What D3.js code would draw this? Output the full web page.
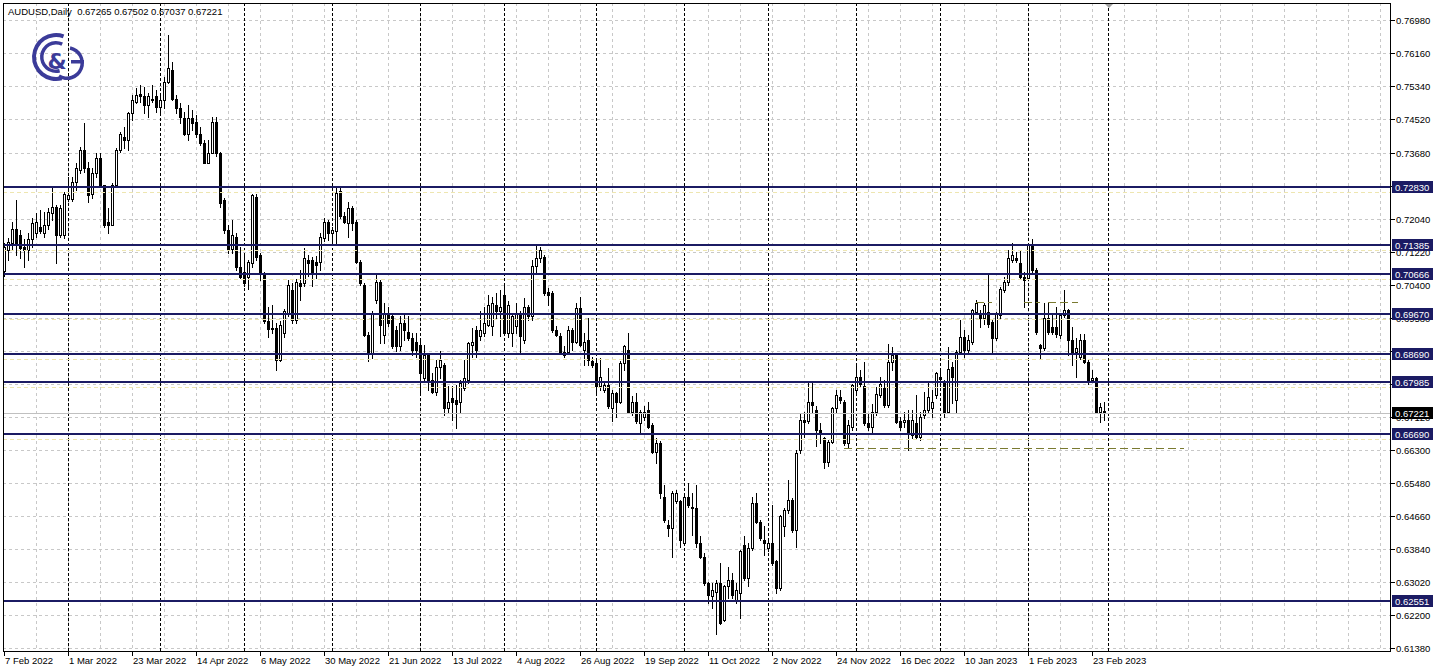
<!DOCTYPE html>
<html><head><meta charset="utf-8">
<script src="https://cdn.jsdelivr.net/npm/d3@7"></script>
<style>html,body{margin:0;padding:0;background:#fff;overflow:hidden}svg{display:block}</style>
</head><body><div id="chart"></div>
<script>
// ---------------- DATA ----------------
const symbolTitle = "AUDUSD,Daily";
const lastOHLC = ["0.67265", "0.67502", "0.67037", "0.67221"];

const opens = [
0.7075,0.7127,0.7145,0.7178,0.7164,0.7135,0.7127,0.7153,0.7168,0.7185,
0.7168,0.7189,0.7218,0.7234,0.7164,0.7164,0.7253,0.7253,0.7296,0.7325,
0.7375,0.7330,0.7267,0.7317,0.7354,0.7288,0.7197,0.7189,0.7288,0.7375,
0.7408,0.7400,0.7466,0.7495,0.7514,0.7508,0.7487,0.7502,0.7509,0.7481,
0.7499,0.7545,0.7575,0.7503,0.7479,0.7454,0.7416,0.7454,0.7445,0.7416,
0.7392,0.7344,0.7367,0.7445,0.7367,0.7251,0.7176,0.7130,0.7160,0.7085,
0.7073,0.7060,0.7094,0.7259,0.7114,0.7069,0.6950,0.6930,0.6933,0.6854,
0.6920,0.6970,0.7028,0.6953,0.7044,0.7044,0.7102,0.7102,0.7098,0.7098,
0.7156,0.7197,0.7169,0.7173,0.7272,0.7210,0.7193,0.7231,0.7197,0.7098,
0.7040,0.6916,0.6870,0.7003,0.7048,0.6916,0.6970,0.6962,0.6928,0.6887,
0.6945,0.6924,0.6908,0.6899,0.6891,0.6808,0.6866,0.6804,0.6775,0.6837,
0.6841,0.6734,0.6759,0.6755,0.6750,0.6784,0.6804,0.6891,0.6928,0.6912,
0.6920,0.6941,0.6937,0.6990,0.6974,0.7015,0.6920,0.6920,0.6937,0.6969,
0.6904,0.6986,0.6962,0.7086,0.7106,0.7110,0.7023,0.7019,0.6928,0.6913,
0.6866,0.6874,0.6928,0.6899,0.6982,0.6879,0.6903,0.6850,0.6845,0.6788,
0.6779,0.6792,0.6734,0.6771,0.6750,0.6845,0.6879,0.6725,0.6750,0.6697,
0.6713,0.6730,0.6692,0.6626,0.6647,0.6514,0.6444,0.6436,0.6502,0.6502,
0.6398,0.6514,0.6489,0.6485,0.6398,0.6365,0.6299,0.6266,0.6278,0.6299,
0.6208,0.6291,0.6307,0.6258,0.6274,0.6394,0.6311,0.6386,0.6498,0.6452,
0.6407,0.6386,0.6398,0.6353,0.6287,0.6440,0.6481,0.6506,0.6432,0.6630,
0.6705,0.6701,0.6750,0.6730,0.6680,0.6659,0.6600,0.6650,0.6733,0.6762,
0.6750,0.6646,0.6688,0.6779,0.6812,0.6790,0.6698,0.6688,0.6725,0.6766,
0.6783,0.6741,0.6849,0.6866,0.6702,0.6700,0.6704,0.6667,0.6696,0.6663,
0.6717,0.6729,0.6733,0.6766,0.6810,0.6799,0.6725,0.6837,0.6754,0.6874,
0.6911,0.6878,0.6899,0.6973,0.6969,0.6957,0.6973,0.6948,0.6907,0.6965,
0.7027,0.7048,0.7102,0.7106,0.7094,0.7060,0.7056,0.7139,0.7077,0.6890,
0.6882,0.6957,0.6936,0.6936,0.6915,0.6965,0.6977,0.6903,0.6874,0.6861,
0.6903,0.6849,0.6804,0.6808,0.6725,0.67265];
const highs = [
0.7145,0.7156,0.7197,0.7251,0.7176,0.7153,0.7168,0.7205,0.7218,0.7226,
0.7222,0.7230,0.7284,0.7238,0.7238,0.7271,0.7309,0.7309,0.7342,0.7383,
0.7443,0.7345,0.7330,0.7368,0.7368,0.7288,0.7230,0.7292,0.7379,0.7421,
0.7433,0.7470,0.7512,0.7528,0.7537,0.7532,0.7516,0.7537,0.7524,0.7508,
0.7557,0.7661,0.7594,0.7512,0.7491,0.7470,0.7487,0.7474,0.7462,0.7433,
0.7400,0.7400,0.7456,0.7458,0.7371,0.7255,0.7189,0.7201,0.7168,0.7135,
0.7118,0.7102,0.7267,0.7267,0.7118,0.7072,0.6985,0.6990,0.6945,0.6950,
0.6980,0.7052,0.7044,0.7055,0.7077,0.7131,0.7115,0.7110,0.7111,0.7169,
0.7206,0.7202,0.7185,0.7280,0.7286,0.7222,0.7247,0.7235,0.7202,0.7102,
0.7044,0.6924,0.6974,0.7065,0.7052,0.6995,0.6986,0.6970,0.6937,0.6962,
0.6966,0.6962,0.6920,0.6920,0.6904,0.6891,0.6870,0.6821,0.6854,0.6875,
0.6846,0.6788,0.6788,0.6792,0.6804,0.6854,0.6899,0.6933,0.6937,0.6974,
0.6986,0.7015,0.7011,0.7019,0.7028,0.7040,0.7000,0.6969,0.6995,0.6974,
0.7007,0.6990,0.7102,0.7140,0.7135,0.7115,0.7032,0.7024,0.6937,0.6920,
0.6887,0.6937,0.6932,0.6995,0.7011,0.6920,0.6957,0.6862,0.6850,0.6858,
0.6800,0.6833,0.6779,0.6775,0.6850,0.6891,0.6920,0.6763,0.6771,0.6730,
0.6738,0.6750,0.6697,0.6659,0.6651,0.6543,0.6456,0.6527,0.6531,0.6506,
0.6523,0.6547,0.6523,0.6543,0.6415,0.6374,0.6303,0.6299,0.6307,0.6349,
0.6295,0.6340,0.6324,0.6299,0.6382,0.6415,0.6398,0.6514,0.6523,0.6456,
0.6440,0.6411,0.6494,0.6357,0.6469,0.6485,0.6556,0.6510,0.6630,0.6721,
0.6725,0.6800,0.6796,0.6738,0.6697,0.6663,0.6655,0.6737,0.6779,0.6780,
0.6755,0.6704,0.6795,0.6845,0.6828,0.6849,0.6721,0.6745,0.6787,0.6812,
0.6803,0.6894,0.6886,0.6870,0.6712,0.6725,0.6729,0.6729,0.6766,0.6725,
0.6774,0.6799,0.6779,0.6824,0.6830,0.6803,0.6886,0.6849,0.6878,0.6952,
0.6928,0.6915,0.6981,0.7002,0.6977,0.6994,0.7068,0.6952,0.6973,0.7035,
0.7060,0.7126,0.7143,0.7122,0.7126,0.7073,0.7143,0.7155,0.7081,0.6894,
0.6994,0.6994,0.6965,0.6986,0.6969,0.7027,0.6981,0.6936,0.6907,0.6919,
0.6919,0.6853,0.6828,0.6812,0.6746,0.67502];
const lows = [
0.7062,0.7102,0.7127,0.7114,0.7108,0.7085,0.7102,0.7135,0.7160,0.7168,
0.7160,0.7180,0.7201,0.7095,0.7160,0.7156,0.7249,0.7249,0.7276,0.7317,
0.7320,0.7247,0.7255,0.7309,0.7284,0.7185,0.7168,0.7189,0.7284,0.7371,
0.7379,0.7375,0.7450,0.7491,0.7495,0.7466,0.7458,0.7495,0.7470,0.7466,
0.7479,0.7541,0.7499,0.7466,0.7441,0.7412,0.7400,0.7425,0.7408,0.7387,
0.7342,0.7342,0.7367,0.7359,0.7234,0.7168,0.7118,0.7118,0.7077,0.7058,
0.7036,0.7030,0.7085,0.7102,0.7052,0.6945,0.6910,0.6920,0.6829,0.6850,
0.6910,0.6962,0.6945,0.6945,0.7003,0.7036,0.7061,0.7036,0.7057,0.7077,
0.7148,0.7152,0.7144,0.7144,0.7206,0.7193,0.7160,0.7177,0.7094,0.7040,
0.6912,0.6850,0.6858,0.6995,0.6895,0.6895,0.6937,0.6883,0.6875,0.6879,
0.6904,0.6904,0.6866,0.6862,0.6771,0.6800,0.6779,0.6771,0.6767,0.6808,
0.6717,0.6721,0.6705,0.6684,0.6721,0.6779,0.6796,0.6862,0.6862,0.6904,
0.6912,0.6937,0.6916,0.6957,0.6912,0.6916,0.6910,0.6887,0.6920,0.6870,
0.6895,0.6953,0.6953,0.7069,0.7098,0.7015,0.6990,0.6924,0.6912,0.6870,
0.6862,0.6870,0.6879,0.6895,0.6887,0.6841,0.6841,0.6837,0.6771,0.6779,
0.6775,0.6734,0.6701,0.6713,0.6746,0.6829,0.6721,0.6717,0.6697,0.6672,
0.6705,0.6684,0.6622,0.6597,0.6510,0.6452,0.6415,0.6365,0.6498,0.6390,
0.6394,0.6489,0.6419,0.6390,0.6361,0.6295,0.6249,0.6237,0.6172,0.6198,
0.6204,0.6262,0.6262,0.6250,0.6212,0.6307,0.6291,0.6382,0.6448,0.6407,
0.6369,0.6378,0.6345,0.6274,0.6282,0.6415,0.6473,0.6427,0.6390,0.6622,
0.6663,0.6697,0.6721,0.6639,0.6647,0.6585,0.6590,0.6646,0.6721,0.6746,
0.6642,0.6634,0.6679,0.6770,0.6787,0.6692,0.6679,0.6671,0.6717,0.6762,
0.6737,0.6737,0.6828,0.6696,0.6679,0.6688,0.6630,0.6659,0.6659,0.6654,
0.6710,0.6725,0.6712,0.6758,0.6790,0.6712,0.6721,0.6746,0.6721,0.6870,
0.6861,0.6874,0.6894,0.6969,0.6936,0.6944,0.6936,0.6874,0.6903,0.6957,
0.7023,0.7039,0.7097,0.7097,0.7056,0.6986,0.7052,0.7073,0.6919,0.6857,
0.6878,0.6919,0.6919,0.6911,0.6907,0.6961,0.6866,0.6841,0.6812,0.6857,
0.6845,0.6795,0.6799,0.6721,0.6700,0.67037];
const closes = [
0.7135,0.7147,0.7178,0.7145,0.7131,0.7127,0.7153,0.7193,0.7197,0.7175,
0.7189,0.7220,0.7234,0.7164,0.7230,0.7267,0.7263,0.7296,0.7330,0.7375,
0.7330,0.7263,0.7317,0.7354,0.7288,0.7189,0.7189,0.7288,0.7375,0.7416,
0.7400,0.7466,0.7499,0.7512,0.7508,0.7487,0.7509,0.7500,0.7481,0.7499,
0.7545,0.7578,0.7503,0.7479,0.7458,0.7416,0.7454,0.7441,0.7416,0.7392,
0.7344,0.7367,0.7445,0.7367,0.7243,0.7176,0.7127,0.7165,0.7085,0.7060,
0.7044,0.7098,0.7263,0.7110,0.7069,0.6950,0.6930,0.6933,0.6854,0.6941,
0.6974,0.7040,0.6953,0.7048,0.7038,0.7106,0.7094,0.7073,0.7090,0.7160,
0.7197,0.7169,0.7177,0.7268,0.7210,0.7197,0.7231,0.7193,0.7098,0.7044,
0.6916,0.6870,0.6970,0.7048,0.6941,0.6970,0.6945,0.6887,0.6887,0.6945,
0.6928,0.6908,0.6879,0.6879,0.6821,0.6866,0.6804,0.6775,0.6837,0.6854,
0.6734,0.6750,0.6750,0.6745,0.6796,0.6808,0.6895,0.6899,0.6879,0.6928,
0.6945,0.6990,0.6995,0.6974,0.6986,0.6920,0.6990,0.6962,0.6969,0.6912,
0.6986,0.6962,0.7086,0.7106,0.7127,0.7019,0.7015,0.6928,0.6916,0.6874,
0.6874,0.6928,0.6899,0.6982,0.6891,0.6899,0.6854,0.6841,0.6788,0.6812,
0.6792,0.6738,0.6771,0.6750,0.6845,0.6887,0.6725,0.6750,0.6701,0.6725,
0.6725,0.6688,0.6626,0.6647,0.6523,0.6456,0.6436,0.6523,0.6523,0.6407,
0.6514,0.6494,0.6485,0.6398,0.6365,0.6299,0.6270,0.6282,0.6299,0.6200,
0.6291,0.6307,0.6270,0.6282,0.6378,0.6311,0.6386,0.6498,0.6452,0.6411,
0.6398,0.6398,0.6349,0.6287,0.6465,0.6481,0.6506,0.6432,0.6622,0.6705,
0.6700,0.6750,0.6742,0.6680,0.6672,0.6600,0.6650,0.6733,0.6766,0.6754,
0.6646,0.6692,0.6791,0.6812,0.6795,0.6696,0.6688,0.6725,0.6770,0.6795,
0.6741,0.6849,0.6866,0.6700,0.6688,0.6704,0.6671,0.6704,0.6663,0.6712,
0.6729,0.6762,0.6750,0.6820,0.6805,0.6725,0.6832,0.6812,0.6874,0.6911,
0.6878,0.6903,0.6977,0.6994,0.6957,0.6990,0.6944,0.6907,0.6969,0.7031,
0.7048,0.7106,0.7114,0.7102,0.7060,0.7052,0.7139,0.7077,0.6923,0.6882,
0.6957,0.6923,0.6923,0.6919,0.6965,0.6977,0.6903,0.6874,0.6882,0.6903,
0.6849,0.6799,0.6808,0.6725,0.6737,0.67221];

// horizontal support / resistance levels (navy) and their labels
const levels = [0.72830, 0.71385, 0.70666, 0.69670, 0.68690, 0.67985, 0.66690, 0.62551];
const levelLabels = ["0.72830","0.71385","0.70666","0.69670","0.68690","0.67985","0.66690","0.62551"];
const bidPrice = 0.67221;
const bidLabel = "0.67221";

// price axis ticks
const priceTicks = [0.76980,0.76160,0.75340,0.74520,0.73680,0.72860,0.72040,0.71220,0.70400,0.69580,
                    0.68760,0.67940,0.67120,0.66300,0.65480,0.64660,0.63840,0.63020,0.62200,0.61380];
const priceTickLabels = ["0.76980","0.76160","0.75340","0.74520","0.73680","0.72860","0.72040","0.71220","0.70400","0.69580",
                    "0.68760","0.67940","0.67120","0.66300","0.65480","0.64660","0.63840","0.63020","0.62200","0.61380"];

// time axis (bar index -> label)
const timeTickIdx = [0,16,32,48,64,80,96,112,128,144,160,176,192,208,224,240,256,272];
const timeTickLabels = ["7 Feb 2022","1 Mar 2022","23 Mar 2022","14 Apr 2022","6 May 2022","30 May 2022",
  "21 Jun 2022","13 Jul 2022","4 Aug 2022","26 Aug 2022","19 Sep 2022","11 Oct 2022","2 Nov 2022",
  "24 Nov 2022","16 Dec 2022","10 Jan 2023","1 Feb 2023","23 Feb 2023"];
// first bar of each month (period separators)
const monthStartIdx = [16,39,60,82,104,125,148,170,191,213,234,256,276];

// dashed olive segments: [fromIdx, toIdx, price]
const dashSegments = [[210,295,0.6635],[243,247,0.6998],[255,259,0.6998],[261,268.5,0.6998]];

// ---------------- DRAW ----------------
const W = 1438, H = 671;
const plotL = 3, plotR = 1390, plotT = 3, plotB = 651;
const NAVY = "#1b1b63";
const FONT = "'Liberation Sans', Arial, sans-serif";
const FS = 9.5;

const svg = d3.select("#chart").append("svg").attr("width", W).attr("height", H)
  .style("font-family", FONT);
svg.append("rect").attr("width", W).attr("height", H).attr("fill", "#fff");

const y = d3.scaleLinear().domain([0.61380, 0.76980]).range([648, 20]);
const x = d3.scaleLinear().domain([0, 346.5]).range([4, 1390]);
const px = v => Math.round(x(v));
const py = v => Math.round(y(v));

const g = svg.append("g").attr("shape-rendering", "crispEdges");

// grid: vertical every 8 bars
const vGrid = d3.range(8, 347, 8);
g.selectAll(".vg").data(vGrid).join("line")
  .attr("x1", d => px(d) + 0.5).attr("x2", d => px(d) + 0.5)
  .attr("y1", plotT).attr("y2", plotB)
  .attr("stroke", "#c8c8c8").attr("stroke-dasharray", "3,3");
// grid horizontal at price ticks
g.selectAll(".hg").data(priceTicks).join("line")
  .attr("x1", plotL).attr("x2", plotR)
  .attr("y1", d => py(d) + 0.5).attr("y2", d => py(d) + 0.5)
  .attr("stroke", "#c8c8c8").attr("stroke-dasharray", "3,3");

// month separators
g.selectAll(".ms").data(monthStartIdx).join("line")
  .attr("x1", d => px(d) + 0.5).attr("x2", d => px(d) + 0.5)
  .attr("y1", plotT).attr("y2", plotB)
  .attr("stroke", "#000").attr("stroke-dasharray", "3,2");

// candles
const idx = d3.range(opens.length);
const cg = g.append("g");
cg.selectAll(".wick").data(idx).join("line")
  .attr("x1", i => px(i) + 0.5).attr("x2", i => px(i) + 0.5)
  .attr("y1", i => py(highs[i])).attr("y2", i => py(lows[i]) + 1)
  .attr("stroke", "#000");
cg.selectAll(".body").data(idx).join("rect")
  .attr("x", i => closes[i] >= opens[i] ? px(i) - 0.5 : px(i) - 1)
  .attr("y", i => closes[i] >= opens[i] ? py(Math.max(opens[i], closes[i])) + 0.5 : py(Math.max(opens[i], closes[i])))
  .attr("width", i => closes[i] >= opens[i] ? 2 : 3)
  .attr("height", i => {
    const h = py(Math.min(opens[i], closes[i])) - py(Math.max(opens[i], closes[i]));
    return closes[i] >= opens[i] ? Math.max(0, h) : Math.max(1, h + 1);
  })
  .attr("fill", i => closes[i] >= opens[i] ? "#fff" : "#000")
  .attr("stroke", i => closes[i] >= opens[i] ? "#000" : "none");

// pale yellow companion lines
g.selectAll(".yl").data(levels.slice(0, 7)).join("line")
  .attr("x1", plotL).attr("x2", plotR)
  .attr("y1", d => py(d) + 5.5).attr("y2", d => py(d) + 5.5)
  .attr("stroke", "#eee6b0").attr("stroke-dasharray", "4,3");

// bid line
g.append("line").attr("x1", plotL).attr("x2", plotR)
  .attr("y1", py(bidPrice) + 0.5).attr("y2", py(bidPrice) + 0.5)
  .attr("stroke", "#c0c0c0");

// navy levels
g.selectAll(".lv").data(levels).join("line")
  .attr("x1", plotL).attr("x2", plotR)
  .attr("y1", d => py(d)).attr("y2", d => py(d))
  .attr("stroke", NAVY).attr("stroke-width", 2);

// olive dashed segments
g.selectAll(".ds").data(dashSegments).join("line")
  .attr("x1", d => px(d[0])).attr("x2", d => px(d[1]))
  .attr("y1", d => py(d[2]) + 0.5).attr("y2", d => py(d[2]) + 0.5)
  .attr("stroke", "#7a7a30").attr("stroke-dasharray", "8,4");

// frame
g.append("line").attr("x1", plotL + 0.5).attr("x2", plotL + 0.5).attr("y1", plotT).attr("y2", plotB).attr("stroke", "#000");
g.append("line").attr("x1", plotL).attr("x2", plotR).attr("y1", plotT + 0.5).attr("y2", plotT + 0.5).attr("stroke", "#000");
g.append("line").attr("x1", plotR + 0.5).attr("x2", plotR + 0.5).attr("y1", plotT).attr("y2", plotB + 1).attr("stroke", "#000");
g.append("line").attr("x1", plotL).attr("x2", plotR + 1).attr("y1", plotB + 0.5).attr("y2", plotB + 0.5).attr("stroke", "#000");

// shift marker
svg.append("path").attr("d", `M${px(276)-3},${plotT+1}L${px(276)+5},${plotT+1}L${px(276)+1},${plotT+5}Z`).attr("fill", "#a0a0a0");

// price axis: labels fully hidden behind a level box are not drawn
const covered = v => levels.concat([bidPrice]).some(l => Math.abs(py(l) - py(v)) < 4);
const ax = svg.append("g");
ax.selectAll(".pt").data(priceTicks).join("line")
  .attr("x1", plotR + 1).attr("x2", plotR + 5)
  .attr("y1", d => py(d) + 0.5).attr("y2", d => py(d) + 0.5)
  .attr("stroke", "#000").attr("shape-rendering", "crispEdges");
ax.selectAll(".ptl").data(priceTicks.filter(v => !covered(v))).join("text")
  .attr("x", plotR + 6).attr("y", d => py(d) + 3.5)
  .attr("font-size", FS).attr("fill", "#000")
  .text(d => priceTickLabels[priceTicks.indexOf(d)]);

// level labels
const lg = svg.append("g");
lg.selectAll(".lb").data(levels).join("rect")
  .attr("x", plotR + 2).attr("y", d => py(d) - 6).attr("width", 41).attr("height", 12)
  .attr("fill", NAVY);
lg.selectAll(".lt").data(levels).join("text")
  .attr("x", plotR + 5).attr("y", d => py(d) + 3.5)
  .attr("font-size", FS).attr("fill", "#fff")
  .text((d, i) => levelLabels[i]);
lg.append("rect").attr("x", plotR + 2).attr("y", py(bidPrice) - 6).attr("width", 41).attr("height", 12).attr("fill", "#000");
lg.append("text").attr("x", plotR + 5).attr("y", py(bidPrice) + 3.5).attr("font-size", FS).attr("fill", "#fff").text(bidLabel);

// time axis
const tx = svg.append("g");
tx.selectAll(".tt").data(timeTickIdx).join("line")
  .attr("x1", d => px(d) + 0.5).attr("x2", d => px(d) + 0.5)
  .attr("y1", plotB + 1).attr("y2", plotB + 5).attr("stroke", "#000").attr("shape-rendering", "crispEdges");
tx.selectAll(".tl").data(timeTickIdx).join("text")
  .attr("x", d => px(d) + 1).attr("y", 664)
  .attr("font-size", FS).attr("fill", "#000")
  .text((d, i) => timeTickLabels[i]);

// header
svg.append("text").attr("x", 8).attr("y", 15).attr("font-size", FS).attr("fill", "#000")
  .attr("xml:space", "preserve")
  .text(symbolTitle + "  " + lastOHLC.join(" "));

// logo
const LC = "#3b3b99";
const logo = svg.append("g");
const arc = d3.arc();
logo.append("path").attr("transform", "translate(56,57)")
  .attr("d", arc({innerRadius: 20, outerRadius: 24, startAngle: 0.35, endAngle: -3.4}))
  .attr("fill", LC);
logo.append("path").attr("transform", "translate(56,57)")
  .attr("d", arc({innerRadius: 12.5, outerRadius: 16, startAngle: 0.45, endAngle: -3.4}))
  .attr("fill", LC);
logo.append("path").attr("transform", "translate(67,63)")
  .attr("d", arc({innerRadius: 13.5, outerRadius: 17, startAngle: 0.2, endAngle: 3.7}))
  .attr("fill", LC);
logo.append("rect").attr("x", 71).attr("y", 60).attr("width", 13).attr("height", 3.5).attr("fill", LC);
svg.append("text").attr("x", 57).attr("y", 69).attr("text-anchor", "middle")
  .attr("font-size", 22).attr("font-weight", "bold").attr("fill", LC)
  .attr("font-family", "'DejaVu Sans', sans-serif").text("&");
</script></body></html>
